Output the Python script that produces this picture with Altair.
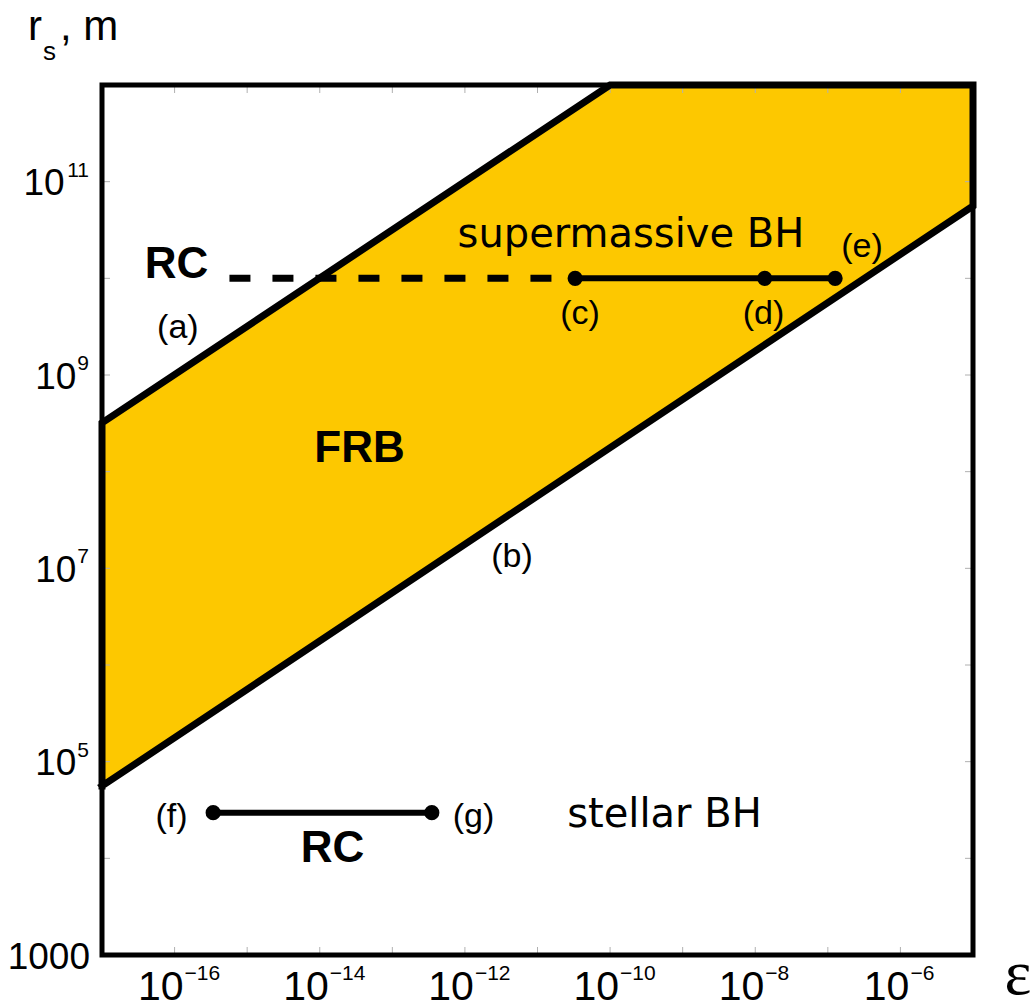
import altair as alt
import pandas as pd

W, H = 871, 870

# band (FRB region)
band_eps = [1e-17, 1e-10, 1e-5]
band_low = [5.6e4, 1.8e8, 5.6e10]
band_high = [3.2e8, 1e12, 1e12]

outline_eps = [1e-17, 1e-17, 1e-10, 1e-5, 1e-5, 1e-17]
outline_r = [5.6e4, 3.2e8, 1e12, 1e12, 5.6e10, 5.6e4]

# RC (upper, supermassive)
dash_eps = [5.7e-16, 3.3e-11]
dash_r = [1e10, 1e10]
solid_eps = [3.3e-11, 1.26e-7]
solid_r = [1e10, 1e10]
pts_up_eps = [3.3e-11, 1.35e-8, 1.26e-7]
pts_up_r = [1e10, 1e10, 1e10]

# RC (lower, stellar)
pts_low_eps = [3.4e-16, 3.5e-13]
pts_low_r = [2.97e4, 2.97e4]

# small annotations (centred)
par_text = ["(a)", "(c)", "(d)", "(e)", "(b)", "(f)", "(g)"]
par_eps = [1.11e-16, 3.85e-11, 1.30e-8, 2.96e-7, 4.46e-12, 9.07e-17, 1.31e-12]
par_r = [3.06e9, 4.23e9, 4.23e9, 2.11e10, 1.31e7, 2.68e4, 2.68e4]

# region names (baseline)
reg_text = ["supermassive BH", "stellar BH"]
reg_eps = [1.94e-10, 5.62e-10]
reg_r = [2.11e10, 2.11e4]

bold_text = ["RC", "FRB", "RC"]
bold_eps = [1.06e-16, 3.53e-14, 1.50e-14]
bold_r = [1.0e10, 1.26e8, 9.16e3]

x_ticks = [1e-16, 1e-15, 1e-14, 1e-13, 1e-12, 1e-11, 1e-10, 1e-9, 1e-8, 1e-7, 1e-6]
y_ticks = [1e4, 1e5, 1e6, 1e7, 1e8, 1e9, 1e10, 1e11]
x_label_vals = [1e-16, 1e-14, 1e-12, 1e-10, 1e-8, 1e-6]
x_label_sup = ["−16", "−14", "−12", "−10", "−8", "−6"]
y_label_vals = [1e5, 1e7, 1e9, 1e11]
y_label_sup = ["5", "7", "9", "11"]
y_plain_val = [1e3]
y_plain_text = ["1000"]

xs = alt.Scale(type="log", domain=[1e-17, 1e-5], nice=False)
ys = alt.Scale(type="log", domain=[1e3, 1e12], nice=False)

FONT = "Liberation Sans"

band_df = pd.DataFrame({"eps": band_eps, "lo": band_low, "hi": band_high})
band = alt.Chart(band_df).mark_area(color="#FDC800", opacity=1).encode(
    x=alt.X("eps:Q", scale=xs, axis=None),
    y=alt.Y("lo:Q", scale=ys, axis=None),
    y2="hi:Q",
)

xt_df = pd.DataFrame({"v": x_ticks})
yt_df = pd.DataFrame({"v": y_ticks})
tcol = "#b0b0b0"
xt_bot = alt.Chart(xt_df).mark_rule(color=tcol, strokeWidth=1).encode(
    x=alt.X("v:Q", scale=xs), y=alt.value(H), y2=alt.value(H - 8))
xt_top = alt.Chart(xt_df).mark_rule(color=tcol, strokeWidth=1).encode(
    x=alt.X("v:Q", scale=xs), y=alt.value(0), y2=alt.value(8))
yt_left = alt.Chart(yt_df).mark_rule(color=tcol, strokeWidth=1).encode(
    y=alt.Y("v:Q", scale=ys), x=alt.value(0), x2=alt.value(8))
yt_right = alt.Chart(yt_df).mark_rule(color=tcol, strokeWidth=1).encode(
    y=alt.Y("v:Q", scale=ys), x=alt.value(W), x2=alt.value(W - 8))

out_df = pd.DataFrame({"eps": outline_eps, "r": outline_r, "o": list(range(len(outline_eps)))})
outline = alt.Chart(out_df).mark_line(color="black", strokeWidth=7, strokeJoin="miter",
                                       strokeCap="square").encode(
    x=alt.X("eps:Q", scale=xs), y=alt.Y("r:Q", scale=ys), order="o:Q")

dash = alt.Chart(pd.DataFrame({"eps": dash_eps, "r": dash_r})).mark_line(
    color="black", strokeWidth=7, strokeDash=[21, 22]).encode(
    x=alt.X("eps:Q", scale=xs), y=alt.Y("r:Q", scale=ys))
solid = alt.Chart(pd.DataFrame({"eps": solid_eps, "r": solid_r})).mark_line(
    color="black", strokeWidth=6).encode(
    x=alt.X("eps:Q", scale=xs), y=alt.Y("r:Q", scale=ys))
low_line = alt.Chart(pd.DataFrame({"eps": pts_low_eps, "r": pts_low_r})).mark_line(
    color="black", strokeWidth=6).encode(
    x=alt.X("eps:Q", scale=xs), y=alt.Y("r:Q", scale=ys))

pts_df = pd.DataFrame({"eps": pts_up_eps + pts_low_eps, "r": pts_up_r + pts_low_r})
pts = alt.Chart(pts_df).mark_point(filled=True, color="black", size=230, opacity=1).encode(
    x=alt.X("eps:Q", scale=xs), y=alt.Y("r:Q", scale=ys))

par = alt.Chart(pd.DataFrame({"t": par_text, "eps": par_eps, "r": par_r})).mark_text(
    font=FONT, fontSize=34, color="black", align="center", baseline="middle").encode(
    x=alt.X("eps:Q", scale=xs), y=alt.Y("r:Q", scale=ys), text="t:N")

reg = alt.Chart(pd.DataFrame({"t": reg_text, "eps": reg_eps, "r": reg_r})).mark_text(
    font="DejaVu Sans", fontSize=40, color="black", align="center", baseline="alphabetic").encode(
    x=alt.X("eps:Q", scale=xs), y=alt.Y("r:Q", scale=ys), text="t:N")

bold = alt.Chart(pd.DataFrame({"t": bold_text, "eps": bold_eps, "r": bold_r})).mark_text(
    font=FONT, fontWeight="bold", fontSize=44, color="black", align="center",
    baseline="alphabetic").encode(
    x=alt.X("eps:Q", scale=xs), y=alt.Y("r:Q", scale=ys), text="t:N")

# x tick labels: "10" + superscript exponent
xl_df = pd.DataFrame({"v": x_label_vals, "sup": x_label_sup})
xl_base = alt.Chart(xl_df).mark_text(font=FONT, fontSize=41, color="black", align="right",
                                     baseline="alphabetic", dx=9).encode(
    x=alt.X("v:Q", scale=xs), y=alt.value(H + 45), text=alt.value("10"))
xl_sup = alt.Chart(xl_df).mark_text(font=FONT, fontSize=21, color="black", align="left",
                                    baseline="alphabetic", dx=10).encode(
    x=alt.X("v:Q", scale=xs), y=alt.value(H + 25), text="sup:N")

# y tick labels
y_layers = []
SUPW = 11.7
for v, s in zip(y_label_vals, y_label_sup):
    d = pd.DataFrame({"v": [v], "sup": [s]})
    y_layers.append(alt.Chart(d).mark_text(font=FONT, fontSize=21, color="black", align="right",
                                           baseline="alphabetic", dy=-5).encode(
        y=alt.Y("v:Q", scale=ys), x=alt.value(-13), text="sup:N"))
    y_layers.append(alt.Chart(d).mark_text(font=FONT, fontSize=37, color="black", align="right",
                                           baseline="alphabetic", dy=13.5).encode(
        y=alt.Y("v:Q", scale=ys), x=alt.value(-14 - SUPW * len(s)), text=alt.value("10")))
yp = alt.Chart(pd.DataFrame({"v": y_plain_val, "t": y_plain_text})).mark_text(
    font=FONT, fontSize=37, color="black", align="right", baseline="alphabetic", dy=13.5).encode(
    y=alt.Y("v:Q", scale=ys), x=alt.value(-12), text="t:N")

one = pd.DataFrame({"a": [0]})
frame = alt.Chart(one).mark_rect(fill=None, stroke="black", strokeWidth=5, filled=False).encode(
    x=alt.value(0), x2=alt.value(W), y=alt.value(0), y2=alt.value(H))

t_r = alt.Chart(one).mark_text(font=FONT, fontSize=42, align="left", baseline="alphabetic",
                               color="black").encode(x=alt.value(-74), y=alt.value(-45), text=alt.value("r"))
t_s = alt.Chart(one).mark_text(font=FONT, fontSize=26, align="left", baseline="alphabetic",
                               color="black").encode(x=alt.value(-59), y=alt.value(-25), text=alt.value("s"))
t_m = alt.Chart(one).mark_text(font=FONT, fontSize=42, align="left", baseline="alphabetic",
                               color="black").encode(x=alt.value(-42), y=alt.value(-45), text=alt.value(", m"))
t_eps = alt.Chart(one).mark_text(font="Liberation Serif", fontSize=64, align="center", baseline="bottom",
                                 color="black").encode(x=alt.value(W + 45), y=alt.value(H + 52),
                                                       text=alt.value("ε"))

chart = alt.layer(
    band, xt_bot, xt_top, yt_left, yt_right, outline, dash, solid, low_line, pts, par, reg, bold,
    xl_base, xl_sup, *y_layers, yp, frame, t_r, t_s, t_m, t_eps
).properties(
    width=W, height=H,
    autosize=alt.AutoSizeParams(type="none"),
    padding={"left": 102, "top": 85, "right": 62, "bottom": 53},
    background="white",
).configure_view(stroke=None)

chart.save("out.html", embed_options={"renderer": "svg", "actions": False})
